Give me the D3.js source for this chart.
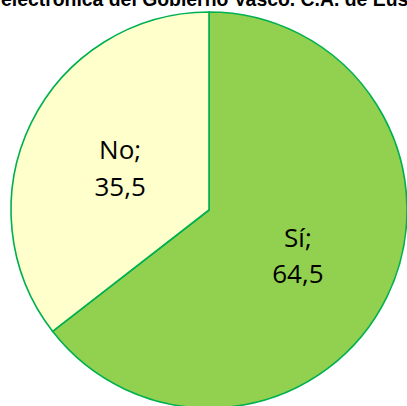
<!DOCTYPE html>
<html><head><meta charset="utf-8">
<script src="https://cdn.jsdelivr.net/npm/d3@7"></script>
<style>html,body{margin:0;padding:0;background:#fff;overflow:hidden}</style>
</head><body>
<svg id="c" width="407" height="406"></svg>
<script>
const categories = ["Sí", "No"];
const values = [64.5, 35.5];
const valueLabels = ["64,5", "35,5"];
const colors = ["#92d050", "#ffffcc"];
const titleText = "electrónica del Gobierno Vasco. C.A. de Eus";

const svg = d3.select("#c");
const cx = 209, cy = 210, r = 198;

const pie = d3.pie().sort(null).value(d => d.v);
const data = categories.map((c, i) => ({c, v: values[i], lbl: valueLabels[i], col: colors[i]}));
const arcs = pie(data);
const arc = d3.arc().innerRadius(0).outerRadius(r);
const g = svg.append("g").attr("transform", `translate(${cx},${cy})`);
g.selectAll("path").data(arcs).join("path")
  .attr("d", arc).attr("fill", d => d.data.col)
  .attr("stroke", "#00b050").attr("stroke-width", 1.6).attr("stroke-linejoin", "miter");

const lab = g.selectAll("text.l").data(arcs).join("text").attr("class", "l")
  .attr("transform", d => { const [x, y] = arc.centroid(d); return `translate(${x},${y})`; })
  .attr("text-anchor", "middle")
  .style("font-family", "'Open Sans', sans-serif").style("font-size", "26px").attr("fill", "#000");
lab.append("tspan").attr("x", 0).attr("y", -7).text(d => d.data.c + ";");
lab.append("tspan").attr("x", 0).attr("y", 29.5).text(d => d.data.lbl);

svg.append("text").attr("x", 1).attr("y", 5.5)
  .style("font-family", "'Liberation Sans', Arial, sans-serif").style("font-weight", "bold").style("font-size", "19.4px")
  .attr("fill", "#000").text(titleText);
</script>
</body></html>
